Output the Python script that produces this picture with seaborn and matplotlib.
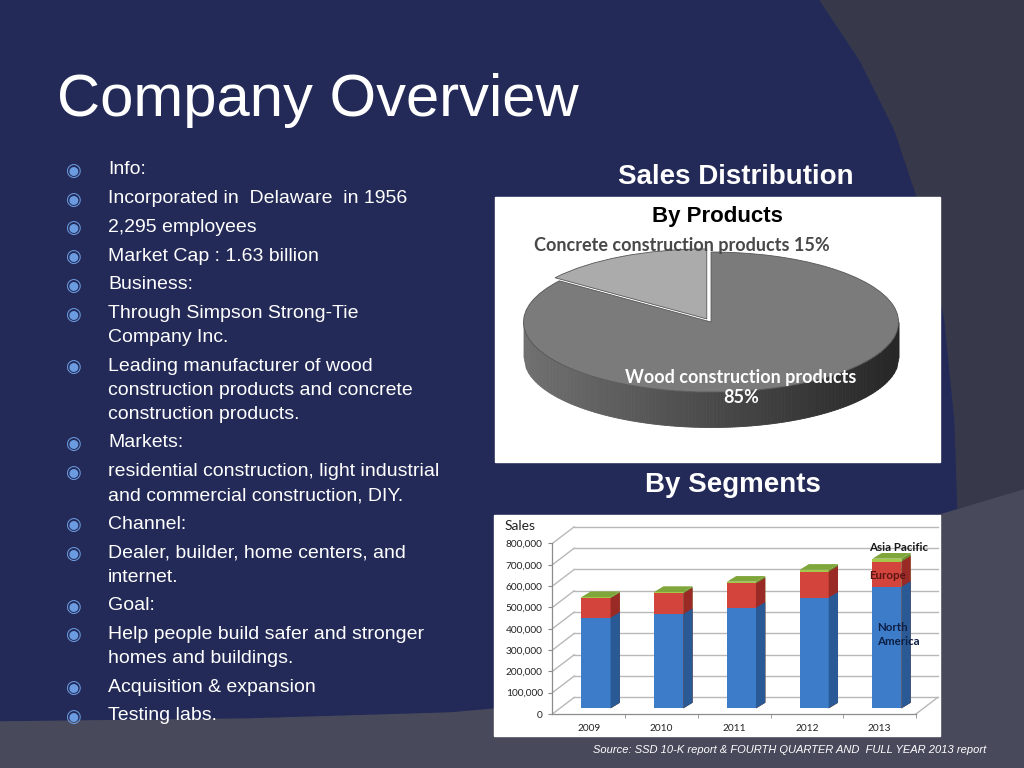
import numpy as np
import pandas as pd
import seaborn as sns
import matplotlib.pyplot as plt
from matplotlib.patches import Polygon, Rectangle
from matplotlib.colors import LinearSegmentedColormap


# left column bullets (each bullet may wrap over several lines)
bullets = [
    ["Info:"],
    ["Incorporated in  Delaware  in 1956"],
    ["2,295 employees"],
    ["Market Cap : 1.63 billion"],
    ["Business:"],
    ["Through Simpson Strong-Tie", "Company Inc."],
    ["Leading manufacturer of wood", "construction products and concrete", "construction products."],
    ["Markets:"],
    ["residential construction, light industrial", "and commercial construction, DIY."],
    ["Channel:"],
    ["Dealer, builder, home centers, and", "internet."],
    ["Goal:"],
    ["Help people build safer and stronger", "homes and buildings."],
    ["Acquisition & expansion"],
    ["Testing labs."],
]

# pie - sales by products
products = ["Concrete construction products", "Wood construction products"]
product_share = [15, 85]

# bars - sales by segments
years = ["2009", "2010", "2011", "2012", "2013"]
north_america = [425000, 442000, 472000, 519000, 570000]
europe = [91000, 97000, 114000, 122000, 118000]
asia_pacific = [6000, 7000, 8000, 9000, 14000]
sales_ticks = [0, 100000, 200000, 300000, 400000, 500000, 600000, 700000, 800000]

NAVY = "#232a57"
SANS = "Liberation Sans"

fig = plt.figure(figsize=(10.24, 7.68), dpi=100)

# ---- slide background -------------------------------------------------
bg = fig.add_axes([0, 0, 1, 1], zorder=-1)
bg.set_xlim(0, 1024)
bg.set_ylim(768, 0)
bg.axis("off")
bg.add_patch(Rectangle((0, 0), 1024, 768, color=NAVY))
bg.add_patch(Polygon([(820, 0), (1024, 0), (1024, 492), (958, 508), (955, 420),
                      (945, 320), (925, 220), (895, 130), (860, 60)], color="#37394b"))
bg.add_patch(Polygon([(0, 722), (250, 719), (450, 713), (600, 700), (760, 640),
                      (880, 560), (940, 515), (1024, 490), (1024, 768), (0, 768)],
                     color="#484a5c"))
# white chart boxes
bg.add_patch(Rectangle((495, 197), 445, 265, color="white"))
bg.add_patch(Rectangle((494, 515), 446, 221, color="white"))

# ---- title and bullets ------------------------------------------------
fig.text(57 / 1024, 1 - 100 / 768, "Company Overview", color="white",
         fontsize=43, family=SANS, va="center")

y = 170
for item in bullets:
    fig.text(73 / 1024, 1 - (y + 1) / 768, "\u25c9", color="#6b9be0", fontsize=13,
             family="DejaVu Sans", ha="center", va="center")
    for k, line in enumerate(item):
        fig.text(108 / 1024, 1 - (y + 24 * k) / 768, line, color="white",
                 fontsize=14, family=SANS, va="center")
    y += 28.7 + 24 * (len(item) - 1)

fig.text(736 / 1024, 1 - 177 / 768, "Sales Distribution", color="white",
         fontsize=20, weight="bold", family=SANS, ha="center", va="center")
fig.text(733 / 1024, 1 - 485 / 768, "By Segments", color="white",
         fontsize=20, weight="bold", family=SANS, ha="center", va="center")
fig.text(986 / 1024, 1 - 750 / 768,
         "Source: SSD 10-K report & FOURTH QUARTER AND  FULL YEAR 2013 report",
         color="white", fontsize=8, style="italic", family=SANS, ha="right", va="center")

# ---- pie (flattened, with a shaded rim) -------------------------------
pax = fig.add_axes([495 / 1024, 1 - 462 / 768, 445 / 1024, 265 / 768])
depth = 0.5
rim = LinearSegmentedColormap.from_list("rim", ["#707070", "#4a4a4a", "#262626"])
xs = np.linspace(-1, 1, 161)
upper = -np.sqrt(np.clip(1 - xs ** 2, 0, None))
for i in range(len(xs) - 1):
    c = rim(i / (len(xs) - 2))
    pax.fill_between(xs[i:i + 2], upper[i:i + 2] - depth, upper[i:i + 2],
                     color=c, lw=0.6, edgecolor=c, zorder=0.5)
pax.pie(product_share, startangle=90, counterclock=True, explode=[0.05, 0],
        colors=["#ababab", "#7b7b7b"], frame=True,
        wedgeprops=dict(linewidth=0.6, edgecolor="#555555"))
pax.set_aspect("auto")
pax.set_xlim(-1.152, 1.221)
pax.set_ylim(-2.0, 1.786)
pax.set_facecolor("white")
for s in pax.spines.values():
    s.set_visible(False)
pax.set_xticks([])
pax.set_yticks([])
pax.text(0.5, 0.928, "By Products", transform=pax.transAxes, fontsize=16,
         weight="bold", family=SANS, ha="center", va="center", color="black")
pax.text(-0.155, 1.1, f"{products[0]} {product_share[0]}%", fontsize=13,
         weight="bold", family="Lato", color="#484848", ha="center", va="center")
pax.text(0.16, -0.94, f"{products[1]}\n{product_share[1]}%", fontsize=13,
         weight="bold", family="Lato", color="white", ha="center", va="center",
         linespacing=1.2)

# ---- stacked bars (fake 3d) -------------------------------------------
ax = fig.add_axes([552.4 / 1024, 54 / 768, 389 / 1024, 189 / 768])
df = pd.DataFrame({"year": years, "na": north_america, "eu": europe, "ap": asia_pacific})
df["na_eu"] = df["na"] + df["eu"]
df["total"] = df["na_eu"] + df["ap"]

BX, BY = 0.1, 26500       # front plane offset
WX, WY = 0.3, 78000       # wall depth
DX, DY = 0.128, 26500     # bar depth

layers = [("total", "#a6c84a", "#6e8f2c"),
          ("na_eu", "#d2443c", "#9a2a26"),
          ("na", "#3d7cc9", "#2a5a96")]
for i, (col, front, side) in enumerate(layers):
    n_before = len(ax.patches)
    sns.barplot(data=df, x="year", y=col, color=front, saturation=1, width=0.4,
                linewidth=0, zorder=2 + i, ax=ax)
    for p in ax.patches[n_before:]:
        x0, x1, h = p.get_x(), p.get_x() + p.get_width(), p.get_height()
        ax.add_patch(Polygon([(x1, 0), (x1 + DX, DY), (x1 + DX, h + DY), (x1, h)],
                             color=side, lw=0, zorder=2 + i))
        if col == "total":
            ax.add_patch(Polygon([(x0, h), (x1, h), (x1 + DX, h + DY), (x0 + DX, h + DY)],
                                 color="#7ea63a", lw=0, zorder=6))

# walls / gridlines
x_left, x_right = -0.6, 4.4
grid_c = "#b8b8b8"
for v in sales_ticks:
    ax.plot([x_left, x_left + WX], [v - BY, v - BY + WY], color=grid_c, lw=1, zorder=1)
    ax.plot([x_left + WX, x_right + WX], [v - BY + WY] * 2, color=grid_c, lw=1, zorder=1)
ax.plot([x_right, x_right + WX], [-BY, -BY + WY], color=grid_c, lw=1, zorder=1)

ax.set_xlim(-0.6, 4.75)
ax.set_ylim(-BY, 860000)
ax.set_facecolor("none")
for s in ["top", "right"]:
    ax.spines[s].set_visible(False)
ax.spines["left"].set_bounds(-BY, sales_ticks[-1] - BY)
ax.spines["bottom"].set_bounds(x_left, x_right)
for s in ["left", "bottom"]:
    ax.spines[s].set_color("#8c8c8c")
    ax.spines[s].set_linewidth(0.9)

ax.set_yticks([v - BY for v in sales_ticks])
ax.set_yticklabels([f"{v:,}" for v in sales_ticks])
ax.set_xticks([i - BX for i in range(len(years))])
ax.set_xticklabels(years)
ax.set_xticks([i + 0.5 - BX for i in range(len(years))], minor=True)
ax.tick_params(axis="y", length=3, color="#8c8c8c", labelsize=7.3, pad=4, labelcolor="#222222")
ax.tick_params(axis="x", which="major", length=0, labelsize=7.3, pad=7, labelcolor="#222222")
ax.tick_params(axis="x", which="minor", length=3, color="#8c8c8c")
for t in ax.get_xticklabels() + ax.get_yticklabels():
    t.set_family("Lato")
ax.set_xlabel("")
ax.set_ylabel("")

fig.text(505 / 1024, 1 - 526 / 768, "Sales", family="Lato", fontsize=10,
         color="#222222", ha="left", va="center")
ax.text(3.76, 756000, "Asia Pacific", family="Lato", weight="bold", fontsize=8.3,
        color="#1a1a1a", va="center", zorder=8)
ax.text(3.76, 625000, "Europe", family="Lato", weight="bold", fontsize=8.3,
        color="#5a1414", va="center", zorder=8)
ax.text(3.86, 347000, "North\nAmerica", family="Lato", weight="bold", fontsize=8.3,
        color="#0d1f45", va="center", linespacing=1.3, zorder=8)

fig.savefig("out.png", dpi=100)
